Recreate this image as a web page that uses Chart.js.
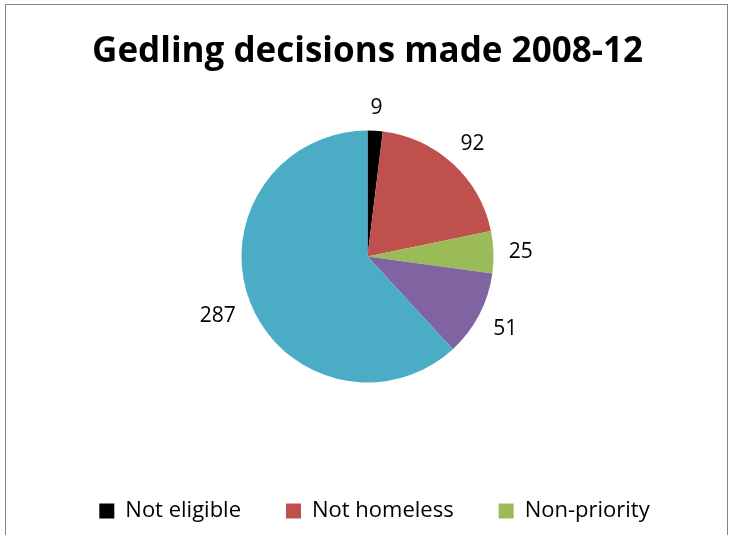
<!DOCTYPE html>
<html>
<head>
<meta charset="utf-8">
<script src="https://cdn.jsdelivr.net/npm/chart.js@4.4.1/dist/chart.umd.min.js"></script>
<style>
  html, body { margin: 0; padding: 0; background: #fff; overflow: hidden; }
  .frame {
    position: absolute; left: 5px; top: 4px;
    width: 721px; height: 610px;
    border: 1px solid #868686;
    background: #fff;
  }
  .frame canvas { display: block; }
</style>
</head>
<body>
<div class="frame">
  <canvas id="decisionsChart" width="721" height="594"></canvas>
</div>
<script>
// Gedling homelessness decisions, 2008-12
const categories = ['Not eligible', 'Not homeless', 'Non-priority', 'Intentionally homeless', 'Accepted'];
const decisions = [9, 92, 25, 51, 287];
const sliceColors = ['#000000', '#C0504D', '#9BBB59', '#8064A2', '#4BACC6'];

// value labels just outside each slice, pushed out along the slice's middle angle
const sliceLabels = {
  id: 'sliceLabels',
  afterDatasetsDraw(chart) {
    const ctx = chart.ctx;
    const meta = chart.getDatasetMeta(0);
    ctx.save();
    ctx.font = '21px "Open Sans"';
    ctx.fillStyle = '#000';
    ctx.textAlign = 'center';
    ctx.textBaseline = 'middle';
    meta.data.forEach((arc, i) => {
      const p = arc.getProps(['x', 'y', 'startAngle', 'endAngle', 'outerRadius'], true);
      const mid = (p.startAngle + p.endAngle) / 2;
      const text = String(decisions[i]);
      const w = ctx.measureText(text).width;
      const h = 16;
      const cos = Math.cos(mid), sin = Math.sin(mid);
      const ext = Math.abs(cos) * w / 2 + Math.abs(sin) * h / 2;
      const d = p.outerRadius + 15 + ext;
      ctx.fillText(text, p.x + cos * d, p.y + sin * d + 1);
    });
    ctx.restore();
  }
};

// legend rows sit a little right of centre
const legendNudge = {
  id: 'legendNudge',
  afterLayout(chart) {
    chart.legend.left += 7;
    chart.legend.right += 7;
  }
};

new Chart(document.getElementById('decisionsChart'), {
  type: 'pie',
  data: {
    labels: categories,
    datasets: [{
      data: decisions,
      backgroundColor: sliceColors,
      borderWidth: 0,
      radius: 126
    }]
  },
  options: {
    responsive: false,
    animation: false,
    layout: { padding: { left: 2 } },
    plugins: {
      title: {
        display: true,
        text: 'Gedling decisions made 2008-12',
        color: '#000',
        font: { family: 'Open Sans', size: 35, weight: 'bold' },
        padding: { top: 26, bottom: 5 }
      },
      legend: {
        position: 'bottom',
        title: { display: true, text: ' ', font: { size: 10 }, padding: { top: 8, bottom: 0 } },
        labels: {
          color: '#000',
          font: { family: 'Open Sans', size: 22 },
          boxWidth: 15,
          boxHeight: 15,
          padding: 45
        }
      },
      tooltip: { enabled: false }
    }
  },
  plugins: [sliceLabels, legendNudge]
});
</script>
</body>
</html>
